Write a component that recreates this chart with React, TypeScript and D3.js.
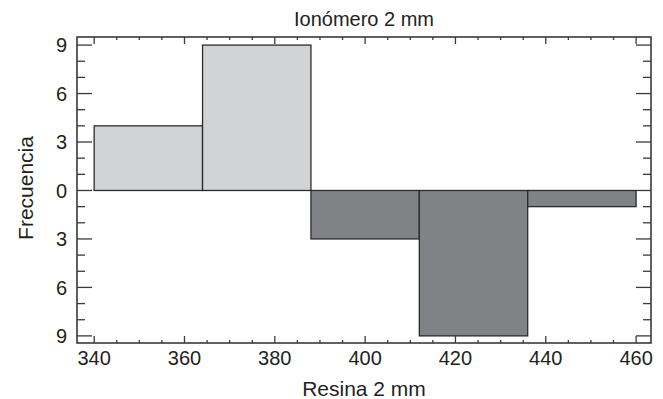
import React, { useRef, useEffect } from 'react';
import * as d3 from 'd3';

// bordes de los intervalos (ancho 24)
const binEdges = [340, 364, 388, 412, 436, 460];
// frecuencias hacia arriba (Ionómero) y hacia abajo (Resina)
const ionomeroCounts = [4, 9, 0, 0, 0];
const resinaCounts = [0, 0, 3, 9, 1];

const xTicks = [340, 360, 380, 400, 420, 440, 460];
const yTicks = [-9, -6, -3, 0, 3, 6, 9];

const width = 663;
const height = 399;
const margin = { top: 37, right: 12, bottom: 56, left: 77 };

const App: React.FC = () => {
  const svgRef = useRef<SVGSVGElement>(null);

  useEffect(() => {
    if (!svgRef.current) return;
    const svg = d3.select(svgRef.current);
    svg.selectAll('*').remove();

    const x = d3.scaleLinear()
      .domain([336.2, 463.3])
      .range([margin.left, width - margin.right]);
    const y = d3.scaleLinear()
      .domain([-9.44, 9.5])
      .range([height - margin.bottom, margin.top]);

    const ink = '#231f20';
    const font = '"Liberation Sans", Arial, sans-serif';

    const bins = binEdges.slice(0, -1).map((x0, i) => ({
      x0, x1: binEdges[i + 1], up: ionomeroCounts[i], down: resinaCounts[i],
    }));

    // barras superiores
    svg.append('g').selectAll('rect')
      .data(bins.filter(d => d.up > 0))
      .enter().append('rect')
      .attr('x', d => x(d.x0))
      .attr('y', d => y(d.up))
      .attr('width', d => x(d.x1) - x(d.x0))
      .attr('height', d => y(0) - y(d.up))
      .attr('fill', '#d2d3d5')
      .attr('stroke', '#2a2a2a')
      .attr('stroke-width', 1.3);

    // barras inferiores
    svg.append('g').selectAll('rect')
      .data(bins.filter(d => d.down > 0))
      .enter().append('rect')
      .attr('x', d => x(d.x0))
      .attr('y', y(0))
      .attr('width', d => x(d.x1) - x(d.x0))
      .attr('height', d => y(-d.down) - y(0))
      .attr('fill', '#808285')
      .attr('stroke', '#2a2a2a')
      .attr('stroke-width', 1.3);

    const [xl, xr] = x.range();
    const [yb, yt] = y.range();
    const tickG = svg.append('g').attr('stroke', '#3a3a3a').attr('stroke-width', 1.3);

    // ticks x (arriba y abajo, hacia dentro)
    const xMinor = d3.range(340, 461, 5);
    xMinor.forEach(v => {
      const major = v % 20 === 0;
      const len = major ? 7 : 3;
      tickG.append('line').attr('x1', x(v)).attr('x2', x(v)).attr('y1', yb).attr('y2', yb - len);
      tickG.append('line').attr('x1', x(v)).attr('x2', x(v)).attr('y1', yt).attr('y2', yt + len);
    });

    // ticks y (izquierda y derecha, hacia dentro)
    const yMinor = d3.range(-9, 10, 1);
    yMinor.forEach(v => {
      const major = v % 3 === 0;
      const len = major ? 15 : 8;
      tickG.append('line').attr('x1', xl).attr('x2', xl + len).attr('y1', y(v)).attr('y2', y(v));
      tickG.append('line').attr('x1', xr).attr('x2', xr - len).attr('y1', y(v)).attr('y2', y(v));
    });

    // marco
    svg.append('rect')
      .attr('x', xl).attr('y', yt)
      .attr('width', xr - xl).attr('height', yb - yt)
      .attr('fill', 'none')
      .attr('stroke', '#3a3a3a')
      .attr('stroke-width', 1.6);

    // etiquetas
    svg.append('g').selectAll('text')
      .data(xTicks).enter().append('text')
      .attr('x', d => x(d)).attr('y', 365)
      .attr('text-anchor', 'middle')
      .attr('font-family', font).attr('font-size', 20).attr('fill', ink)
      .text(d => String(d));

    svg.append('g').selectAll('text')
      .data(yTicks).enter().append('text')
      .attr('x', xl - 10).attr('y', d => y(d)).attr('dy', '0.36em')
      .attr('text-anchor', 'end')
      .attr('font-family', font).attr('font-size', 20).attr('fill', ink)
      .text(d => String(Math.abs(d)));

    svg.append('text')
      .attr('x', (xl + xr) / 2).attr('y', 26)
      .attr('text-anchor', 'middle')
      .attr('font-family', font).attr('font-size', 20).attr('fill', ink)
      .text('Ionómero 2 mm');

    svg.append('text')
      .attr('x', (xl + xr) / 2).attr('y', 396)
      .attr('text-anchor', 'middle')
      .attr('font-family', font).attr('font-size', 21).attr('fill', ink)
      .text('Resina 2 mm');

    svg.append('text')
      .attr('transform', `translate(33, 188) rotate(-90)`)
      .attr('text-anchor', 'middle')
      .attr('font-family', font).attr('font-size', 21).attr('fill', ink)
      .text('Frecuencia');
  }, []);

  return (
    <div style={{ position: 'absolute', left: 0, top: 0, width, height, background: '#fff' }}>
      <svg ref={svgRef} width={width} height={height} style={{ display: 'block' }} />
    </div>
  );
};

export default App;
